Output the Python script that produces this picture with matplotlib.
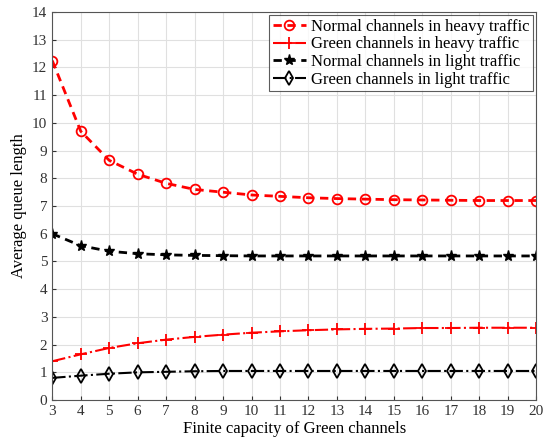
import matplotlib
matplotlib.use("Agg")
import matplotlib.pyplot as plt

plt.rcParams['font.family'] = ['Liberation Serif', 'DejaVu Serif']

x = list(range(3, 21))
normal_heavy = [12.25, 9.7, 8.65, 8.15, 7.82, 7.6, 7.5, 7.4, 7.35, 7.3, 7.27, 7.25, 7.23, 7.22, 7.21, 7.2, 7.2, 7.2]
green_heavy = [1.4, 1.65, 1.88, 2.05, 2.18, 2.28, 2.36, 2.43, 2.48, 2.52, 2.55, 2.57, 2.58, 2.6, 2.6, 2.61, 2.61, 2.61]
normal_light = [6.0, 5.57, 5.37, 5.28, 5.24, 5.22, 5.21, 5.2, 5.2, 5.2, 5.2, 5.2, 5.2, 5.2, 5.2, 5.2, 5.2, 5.2]
green_light = [0.8, 0.88, 0.95, 1.0, 1.02, 1.04, 1.05, 1.05, 1.05, 1.05, 1.05, 1.05, 1.05, 1.05, 1.05, 1.05, 1.05, 1.05]
labels = ["Normal channels in heavy traffic", "Green channels in heavy traffic",
          "Normal channels in light traffic", "Green channels in light traffic"]

fig = plt.figure(figsize=(5.5, 4.47), dpi=100)
ax = fig.add_axes([0.095, 0.105, 0.88, 0.868])

ax.plot(x, normal_heavy, color='red', linestyle=(0, (3, 2)), linewidth=2.0,
        marker='o', markersize=7, markerfacecolor='none', markeredgewidth=1.3, label=labels[0])
ax.plot(x, green_heavy, color='red', linestyle='-.', linewidth=1.5,
        marker='+', markersize=9, markeredgewidth=1.3, label=labels[1])
ax.plot(x, normal_light, color='black', linestyle=(0, (3, 2)), linewidth=2.0,
        marker='*', markersize=8, label=labels[2])
ax.plot(x, green_light, color='black', linestyle='-.', linewidth=1.5,
        marker='d', markersize=7, markerfacecolor='none', markeredgewidth=1.3, label=labels[3])

ax.set_xlim(3, 20)
ax.set_ylim(0, 14)
ax.set_xticks(range(3, 21))
ax.set_yticks(range(0, 15))
ax.grid(True, color='#e0e0e0', linewidth=0.8)
ax.tick_params(direction='in', labelsize=11, colors='#333333', length=3)
for s in ax.spines.values():
    s.set_color('#555555')
ax.set_xlabel("Finite capacity of Green channels", fontsize=12, labelpad=2)
ax.set_ylabel("Average queue length", fontsize=12, labelpad=4)

leg = ax.legend(loc='upper right', fontsize=12, frameon=True, fancybox=False,
                edgecolor='#333333', handlelength=2.0, borderpad=0.2, labelspacing=0.1,
                handletextpad=0.3, borderaxespad=0.2)
leg.get_frame().set_linewidth(0.8)

fig.savefig("out.png", dpi=100)
